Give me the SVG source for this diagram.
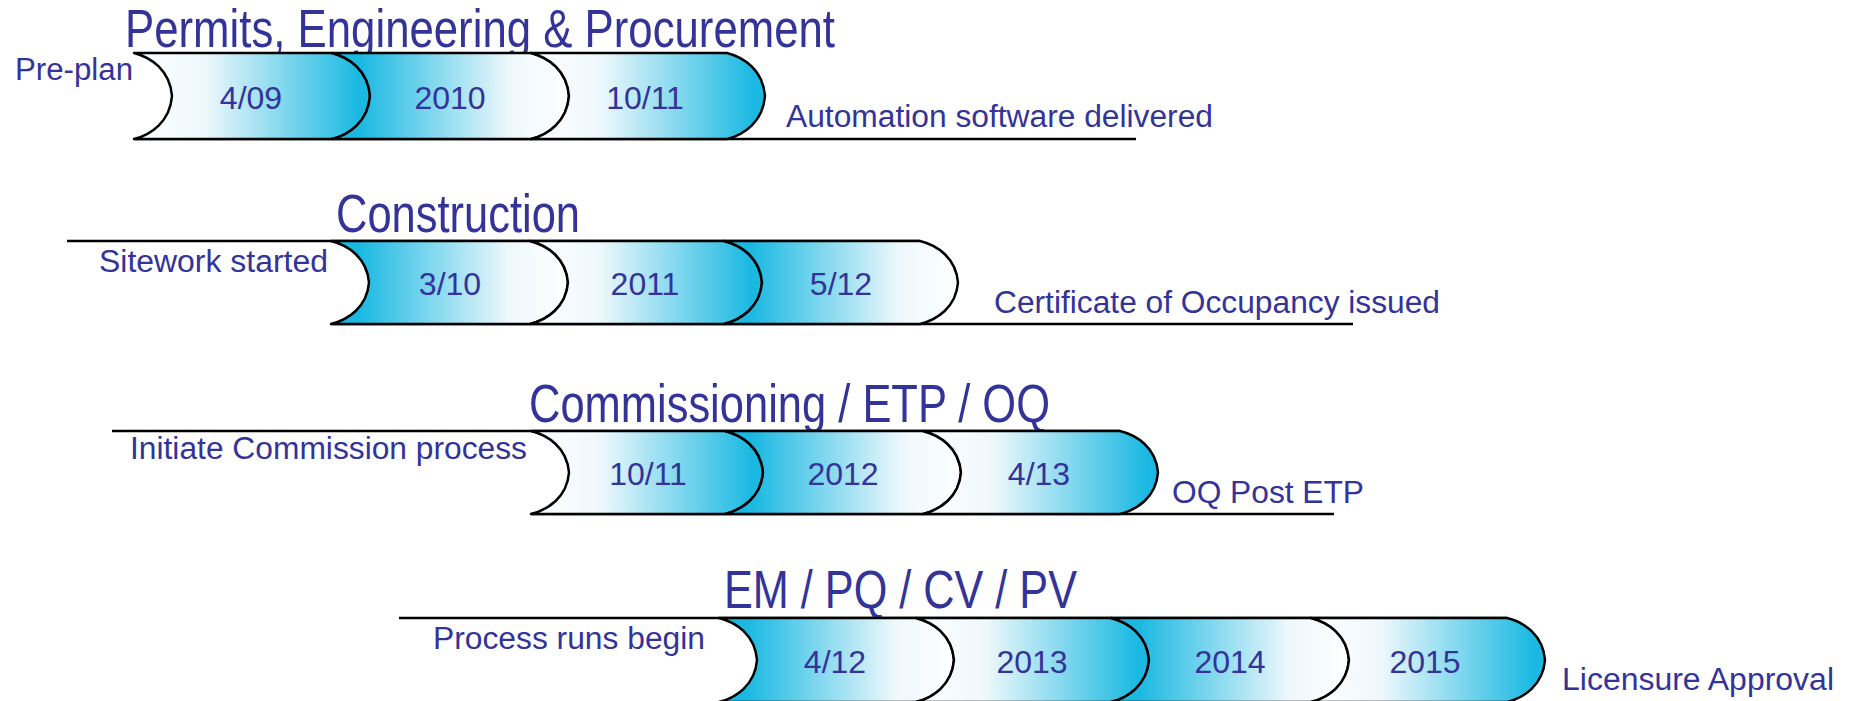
<svg xmlns="http://www.w3.org/2000/svg" width="1850" height="701" viewBox="0 0 1850 701">
<style>
.seg{stroke:#000;stroke-width:2.5;stroke-linejoin:round}
.ln{stroke:#000;stroke-width:2.5;fill:none}
.title{font-family:"Liberation Sans",Arial,sans-serif;font-size:53px;fill:#333399}
.lbl{font-family:"Liberation Sans",Arial,sans-serif;font-size:31px;fill:#333399}
.num{font-family:"Liberation Sans",Arial,sans-serif;font-size:32px;fill:#333399;text-anchor:middle}
</style>
<defs>
<linearGradient id="wc" x1="0" y1="0" x2="1" y2="0">
<stop offset="0" stop-color="#ffffff"/>
<stop offset="0.3" stop-color="#eef8fc"/>
<stop offset="0.95" stop-color="#1bb9e2"/>
<stop offset="1" stop-color="#1bb9e2"/>
</linearGradient>
<linearGradient id="cw" x1="0" y1="0" x2="1" y2="0">
<stop offset="0" stop-color="#1bb9e2"/>
<stop offset="0.12" stop-color="#1bb9e2"/>
<stop offset="0.75" stop-color="#eef8fc"/>
<stop offset="1" stop-color="#ffffff"/>
</linearGradient>
</defs>
<g id="connectors">
<line class="ln" x1="134" y1="139" x2="1136" y2="139"/>
<line class="ln" x1="67" y1="241" x2="920" y2="241"/>
<line class="ln" x1="331" y1="324" x2="1353" y2="324"/>
<line class="ln" x1="112" y1="431" x2="1120" y2="431"/>
<line class="ln" x1="531" y1="514" x2="1334" y2="514"/>
<line class="ln" x1="399" y1="618" x2="1507" y2="618"/>
</g>
<g id="row1">
<text class="title" x="125" y="47" textLength="710" lengthAdjust="spacingAndGlyphs">Permits, Engineering &amp; Procurement</text>
<text class="lbl" x="15" y="80" textLength="118" lengthAdjust="spacingAndGlyphs">Pre-plan</text>
<g id="r1s1"><path class="seg" fill="url(#wc)" d="M134,53 C151,57.3 170,70.2 172,96 C170,121.8 151,134.7 134,139 L332,139 C349,134.7 368,121.8 370,96 C368,70.2 349,57.3 332,53 Z"/><text class="num" x="251" y="109">4/09</text></g>
<g id="r1s2"><path class="seg" fill="url(#cw)" d="M332,53 C349,57.3 368,70.2 370,96 C368,121.8 349,134.7 332,139 L531,139 C548,134.7 567,121.8 569,96 C567,70.2 548,57.3 531,53 Z"/><text class="num" x="450" y="109">2010</text></g>
<g id="r1s3"><path class="seg" fill="url(#wc)" d="M531,53 C548,57.3 567,70.2 569,96 C567,121.8 548,134.7 531,139 L727,139 C744,134.7 763,121.8 765,96 C763,70.2 744,57.3 727,53 Z"/><text class="num" x="645" y="109">10/11</text></g>
<text class="lbl" x="786" y="127" textLength="427" lengthAdjust="spacingAndGlyphs">Automation software delivered</text>
</g>
<g id="row2">
<text class="title" x="336" y="232" textLength="244" lengthAdjust="spacingAndGlyphs">Construction</text>
<text class="lbl" x="99" y="272" textLength="229" lengthAdjust="spacingAndGlyphs">Sitework started</text>
<g id="r2s1"><path class="seg" fill="url(#cw)" d="M331,241 C348,245.2 367,257.6 369,282.5 C367,307.4 348,319.8 331,324 L530,324 C547,319.8 566,307.4 568,282.5 C566,257.6 547,245.2 530,241 Z"/><text class="num" x="450" y="295">3/10</text></g>
<g id="r2s2"><path class="seg" fill="url(#wc)" d="M530,241 C547,245.2 566,257.6 568,282.5 C566,307.4 547,319.8 530,324 L724,324 C741,319.8 760,307.4 762,282.5 C760,257.6 741,245.2 724,241 Z"/><text class="num" x="645" y="295">2011</text></g>
<g id="r2s3"><path class="seg" fill="url(#cw)" d="M724,241 C741,245.2 760,257.6 762,282.5 C760,307.4 741,319.8 724,324 L920,324 C937,319.8 956,307.4 958,282.5 C956,257.6 937,245.2 920,241 Z"/><text class="num" x="841" y="295">5/12</text></g>
<text class="lbl" x="994" y="313" textLength="446" lengthAdjust="spacingAndGlyphs">Certificate of Occupancy issued</text>
</g>
<g id="row3">
<text class="title" x="529" y="422" textLength="521" lengthAdjust="spacingAndGlyphs">Commissioning / ETP / OQ</text>
<text class="lbl" x="130" y="459" textLength="397" lengthAdjust="spacingAndGlyphs">Initiate Commission process</text>
<g id="r3s1"><path class="seg" fill="url(#wc)" d="M531,431 C548,435.2 567,447.6 569,472.5 C567,497.4 548,509.8 531,514 L725,514 C742,509.8 761,497.4 763,472.5 C761,447.6 742,435.2 725,431 Z"/><text class="num" x="648" y="485">10/11</text></g>
<g id="r3s2"><path class="seg" fill="url(#cw)" d="M725,431 C742,435.2 761,447.6 763,472.5 C761,497.4 742,509.8 725,514 L923,514 C940,509.8 959,497.4 961,472.5 C959,447.6 940,435.2 923,431 Z"/><text class="num" x="843" y="485">2012</text></g>
<g id="r3s3"><path class="seg" fill="url(#wc)" d="M923,431 C940,435.2 959,447.6 961,472.5 C959,497.4 940,509.8 923,514 L1120,514 C1137,509.8 1156,497.4 1158,472.5 C1156,447.6 1137,435.2 1120,431 Z"/><text class="num" x="1039" y="485">4/13</text></g>
<text class="lbl" x="1172" y="503" textLength="192" lengthAdjust="spacingAndGlyphs">OQ Post ETP</text>
</g>
<g id="row4">
<text class="title" x="724" y="608" textLength="353" lengthAdjust="spacingAndGlyphs">EM / PQ / CV / PV</text>
<text class="lbl" x="433" y="649" textLength="272" lengthAdjust="spacingAndGlyphs">Process runs begin</text>
<g id="r4s1"><path class="seg" fill="url(#cw)" d="M719,618 C736,622.2 755,634.8 757,660 C755,685.2 736,697.8 719,702 L916,702 C933,697.8 952,685.2 954,660 C952,634.8 933,622.2 916,618 Z"/><text class="num" x="835" y="673">4/12</text></g>
<g id="r4s2"><path class="seg" fill="url(#wc)" d="M916,618 C933,622.2 952,634.8 954,660 C952,685.2 933,697.8 916,702 L1111,702 C1128,697.8 1147,685.2 1149,660 C1147,634.8 1128,622.2 1111,618 Z"/><text class="num" x="1032" y="673">2013</text></g>
<g id="r4s3"><path class="seg" fill="url(#cw)" d="M1111,618 C1128,622.2 1147,634.8 1149,660 C1147,685.2 1128,697.8 1111,702 L1311,702 C1328,697.8 1347,685.2 1349,660 C1347,634.8 1328,622.2 1311,618 Z"/><text class="num" x="1230" y="673">2014</text></g>
<g id="r4s4"><path class="seg" fill="url(#wc)" d="M1311,618 C1328,622.2 1347,634.8 1349,660 C1347,685.2 1328,697.8 1311,702 L1507,702 C1524,697.8 1543,685.2 1545,660 C1543,634.8 1524,622.2 1507,618 Z"/><text class="num" x="1425" y="673">2015</text></g>
<text class="lbl" x="1562" y="690" textLength="272" lengthAdjust="spacingAndGlyphs">Licensure Approval</text>
</g>
</svg>
